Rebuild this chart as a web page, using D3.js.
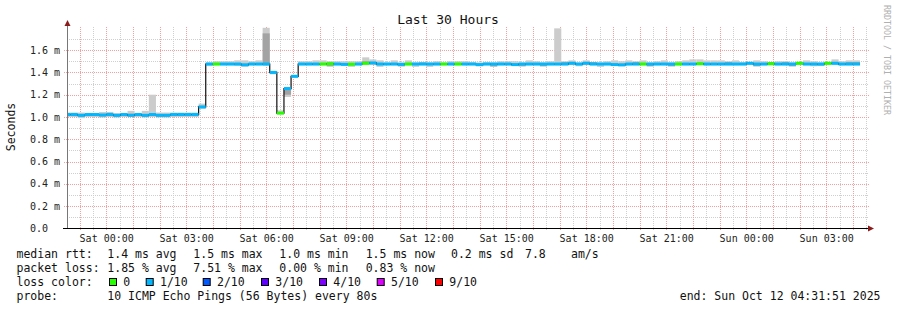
<!DOCTYPE html>
<html>
<head>
<meta charset="utf-8">
<script src="https://cdn.jsdelivr.net/npm/d3@7"></script>
<style>
  body { margin: 0; background: #fff; }
  svg { display: block; font-family: 'DejaVu Sans Mono', monospace; }
</style>
</head>
<body>
<svg width="897" height="310"></svg>
<script>
// 16 minute bins, first bin starts Fri 22:24 UTC (partly left of the plot)
const binStart = Date.UTC(2025, 9, 10, 22, 24);
const binMs = 16 * 60 * 1000;
const rangeStart = new Date(Date.UTC(2025, 9, 10, 22, 31, 51));
const rangeEnd = new Date(Date.UTC(2025, 9, 12, 4, 31, 51));

// median rtt per bin (ms)
const median = [
  1.022, 1.022, 1.015, 1.022, 1.022, 1.018, 1.022, 1.015, 1.022, 1.015,
  1.022, 1.015, 1.022, 1.015, 1.015, 1.022, 1.022, 1.022, 1.022, 1.09,
  1.475, 1.475, 1.475, 1.475, 1.475, 1.468, 1.475, 1.475, 1.475, 1.40,
  1.035, 1.255, 1.365, 1.475, 1.475, 1.475, 1.475, 1.478, 1.475, 1.472,
  1.473, 1.475, 1.482, 1.485, 1.475, 1.475, 1.475, 1.472, 1.475, 1.475,
  1.475, 1.475, 1.475, 1.475, 1.475, 1.475, 1.475, 1.475, 1.47, 1.475,
  1.475, 1.475, 1.475, 1.47, 1.475, 1.475, 1.475, 1.475, 1.475, 1.475,
  1.475, 1.482, 1.475, 1.482, 1.475, 1.475, 1.475, 1.47, 1.468, 1.475,
  1.475, 1.475, 1.475, 1.475, 1.475, 1.475, 1.475, 1.475, 1.475, 1.478,
  1.475, 1.475, 1.475, 1.475, 1.475, 1.475, 1.482, 1.475, 1.475, 1.478,
  1.475, 1.475, 1.475, 1.482, 1.475, 1.475, 1.475, 1.482, 1.482, 1.475,
  1.475, 1.475
];

// loss class per bin (index into lossColors)
const loss = [
  1, 1, 1, 1, 1, 1, 1, 1, 1, 1,
  1, 1, 1, 1, 1, 1, 1, 1, 1, 1,
  1, 0, 1, 1, 1, 1, 1, 1, 1, 1,
  0, 1, 1, 1, 1, 1, 0, 0, 1, 1,
  0, 1, 0, 1, 1, 1, 1, 1, 0, 1,
  1, 1, 1, 0, 1, 0, 1, 1, 1, 1,
  1, 1, 1, 1, 1, 1, 1, 1, 1, 1,
  1, 1, 1, 1, 1, 1, 1, 1, 1, 1,
  1, 0, 1, 1, 1, 1, 0, 1, 1, 0,
  1, 1, 1, 1, 1, 1, 1, 1, 1, 0,
  1, 1, 1, 0, 1, 1, 1, 0, 1, 1,
  1, 1
];

// smoke: full ping spread per bin
const smokeHi = [
  1.04, 1.04, 1.04, 1.035, 1.035, 1.045, 1.04, 1.035, 1.035, 1.055,
  1.035, 1.055, 1.2, 1.04, 1.04, 1.04, 1.04, 1.04, 1.04, 1.12,
  1.49, 1.5, 1.5, 1.5, 1.508, 1.508, 1.5, 1.508, 1.8, 1.41,
  1.06, 1.265, 1.375, 1.5, 1.5, 1.508, 1.508, 1.5, 1.5, 1.5,
  1.5, 1.5, 1.535, 1.517, 1.508, 1.49, 1.508, 1.49, 1.508, 1.49,
  1.49, 1.49, 1.5, 1.49, 1.5, 1.5, 1.5, 1.493, 1.49, 1.493,
  1.49, 1.5, 1.5, 1.5, 1.49, 1.508, 1.5, 1.49, 1.5, 1.795,
  1.5, 1.508, 1.49, 1.508, 1.493, 1.49, 1.5, 1.508, 1.5, 1.508,
  1.5, 1.508, 1.49, 1.5, 1.508, 1.49, 1.5, 1.508, 1.517, 1.517,
  1.508, 1.508, 1.508, 1.5, 1.508, 1.493, 1.49, 1.508, 1.5, 1.493,
  1.5, 1.5, 1.49, 1.49, 1.508, 1.5, 1.49, 1.49, 1.517, 1.5,
  1.508, 1.508
];
const smokeLo = [
  1.0, 1.0, 0.99, 1.0, 1.0, 0.995, 1.0, 0.995, 1.0, 1.0,
  1.0, 0.995, 1.0, 0.995, 0.995, 1.0, 1.0, 1.0, 1.0, 1.075,
  1.46, 1.465, 1.465, 1.465, 1.46, 1.455, 1.465, 1.465, 1.46, 1.383,
  1.025, 1.18, 1.353, 1.465, 1.465, 1.465, 1.465, 1.45, 1.465, 1.465,
  1.45, 1.465, 1.465, 1.465, 1.45, 1.465, 1.465, 1.455, 1.465, 1.45,
  1.465, 1.45, 1.465, 1.465, 1.465, 1.465, 1.465, 1.465, 1.455, 1.465,
  1.45, 1.465, 1.465, 1.46, 1.455, 1.465, 1.465, 1.455, 1.465, 1.465,
  1.465, 1.465, 1.455, 1.465, 1.465, 1.45, 1.465, 1.46, 1.455, 1.465,
  1.465, 1.465, 1.455, 1.465, 1.465, 1.455, 1.465, 1.465, 1.465, 1.465,
  1.465, 1.465, 1.465, 1.465, 1.465, 1.465, 1.465, 1.455, 1.465, 1.465,
  1.465, 1.465, 1.455, 1.465, 1.465, 1.455, 1.46, 1.465, 1.465, 1.465,
  1.465, 1.465
];
// denser inner part of the smoke
const darkHi = [
  1.03, 1.03, 1.025, 1.03, 1.025, 1.025, 1.04, 1.025, 1.03, 1.03,
  1.03, 1.025, 1.03, 1.025, 1.025, 1.03, 1.03, 1.03, 1.03, 1.1,
  1.483, 1.483, 1.483, 1.483, 1.483, 1.476, 1.483, 1.483, 1.75, 1.408,
  1.043, 1.263, 1.373, 1.483, 1.483, 1.483, 1.483, 1.486, 1.483, 1.48,
  1.481, 1.483, 1.5, 1.493, 1.483, 1.483, 1.483, 1.48, 1.483, 1.483,
  1.49, 1.483, 1.483, 1.483, 1.483, 1.483, 1.483, 1.483, 1.478, 1.483,
  1.483, 1.483, 1.483, 1.478, 1.483, 1.483, 1.483, 1.483, 1.483, 1.483,
  1.493, 1.49, 1.483, 1.49, 1.493, 1.483, 1.483, 1.478, 1.476, 1.483,
  1.493, 1.483, 1.483, 1.483, 1.483, 1.483, 1.483, 1.483, 1.483, 1.486,
  1.483, 1.483, 1.483, 1.493, 1.483, 1.483, 1.49, 1.483, 1.483, 1.493,
  1.483, 1.493, 1.483, 1.49, 1.483, 1.483, 1.483, 1.49, 1.49, 1.483,
  1.493, 1.493
];
const darkLo = [
  1.01, 1.01, 1.005, 1.01, 1.01, 1.005, 1.01, 1.005, 1.01, 1.01,
  1.01, 1.005, 1.01, 1.005, 1.005, 1.01, 1.01, 1.01, 1.01, 1.08,
  1.467, 1.467, 1.467, 1.467, 1.467, 1.455, 1.467, 1.467, 1.467, 1.39,
  1.027, 1.2, 1.357, 1.467, 1.467, 1.467, 1.467, 1.458, 1.467, 1.464,
  1.465, 1.467, 1.474, 1.477, 1.467, 1.467, 1.467, 1.455, 1.467, 1.467,
  1.467, 1.467, 1.467, 1.467, 1.467, 1.467, 1.467, 1.467, 1.462, 1.467,
  1.455, 1.467, 1.467, 1.462, 1.455, 1.467, 1.467, 1.455, 1.467, 1.467,
  1.467, 1.474, 1.467, 1.474, 1.467, 1.467, 1.467, 1.462, 1.46, 1.467,
  1.467, 1.467, 1.455, 1.467, 1.467, 1.455, 1.467, 1.467, 1.467, 1.47,
  1.467, 1.467, 1.467, 1.467, 1.467, 1.467, 1.474, 1.455, 1.467, 1.47,
  1.467, 1.467, 1.455, 1.474, 1.467, 1.467, 1.462, 1.474, 1.474, 1.467,
  1.467, 1.467
];

const lossColors = ['#26ff00', '#00b8ff', '#0059ff', '#5e00ff', '#7e00ff', '#dd00ff', '#ff0000'];
const lossLabels = ['0', '1/10', '2/10', '3/10', '4/10', '5/10', '9/10'];
const yTicks = [0, 0.2, 0.4, 0.6, 0.8, 1.0, 1.2, 1.4, 1.6];

const svg = d3.select('svg');
const width = +svg.attr('width');
const height = +svg.attr('height');
const left = 67, right = 867;

const x = d3.scaleUtc().domain([rangeStart, rangeEnd]).range([left, right]);
const y = d3.scaleLinear().domain([0, 1.8]).range([228.5, 27.8]);

svg.append('rect').attr('width', width).attr('height', height).attr('fill', '#fff');

svg.append('defs').append('clipPath').attr('id', 'plot')
  .append('rect').attr('x', left).attr('y', 20).attr('width', right - left).attr('height', 209);

// grid
const grid = svg.append('g').attr('shape-rendering', 'crispEdges');
const minorY = d3.range(1, 18).map((d) => d / 10).filter((d, i) => i % 2 === 0);
grid.selectAll('.gy').data(minorY).enter().append('line')
  .attr('x1', left).attr('x2', right + 2)
  .attr('y1', (d) => Math.round(y(d)) + 0.5).attr('y2', (d) => Math.round(y(d)) + 0.5)
  .attr('stroke', '#cfcfcf').attr('stroke-dasharray', '1,1');
const minorX = x.ticks(d3.utcMinute.every(30));
grid.selectAll('.gx').data(minorX).enter().append('line')
  .attr('x1', (d) => Math.round(x(d)) + 0.5).attr('x2', (d) => Math.round(x(d)) + 0.5)
  .attr('y1', 27).attr('y2', 230)
  .attr('stroke', '#cfcfcf').attr('stroke-dasharray', '1,1');
grid.selectAll('.my').data(yTicks.slice(1)).enter().append('line')
  .attr('x1', left - 3).attr('x2', right + 2)
  .attr('y1', (d) => Math.round(y(d)) + 0.5).attr('y2', (d) => Math.round(y(d)) + 0.5)
  .attr('stroke', '#f2a0a0').attr('stroke-dasharray', '1,1');
const majorX = x.ticks(d3.utcHour.every(1));
grid.selectAll('.mx').data(majorX).enter().append('line')
  .attr('x1', (d) => Math.round(x(d)) + 0.5).attr('x2', (d) => Math.round(x(d)) + 0.5)
  .attr('y1', 27).attr('y2', 231)
  .attr('stroke', '#f2a0a0').attr('stroke-dasharray', '1,1');

// bins
const bins = median.map((m, i) => ({
  x0: x(new Date(binStart + i * binMs)),
  x1: x(new Date(binStart + (i + 1) * binMs)),
  m, loss: loss[i], hi: smokeHi[i], lo: smokeLo[i], dhi: darkHi[i], dlo: darkLo[i]
}));

const plot = svg.append('g').attr('clip-path', 'url(#plot)');

plot.selectAll('.smoke').data(bins).enter().append('rect')
  .attr('x', (d) => d.x0).attr('width', (d) => d.x1 - d.x0)
  .attr('y', (d) => y(d.hi)).attr('height', (d) => y(d.lo) - y(d.hi))
  .attr('fill', '#cccccc');
plot.selectAll('.dark').data(bins).enter().append('rect')
  .attr('x', (d) => d.x0).attr('width', (d) => d.x1 - d.x0)
  .attr('y', (d) => y(d.dhi)).attr('height', (d) => y(d.dlo) - y(d.dhi))
  .attr('fill', '#a3a3a3');

const stepPts = bins.map((d) => [d.x0, y(d.m)]);
stepPts.push([bins[bins.length - 1].x1, y(bins[bins.length - 1].m)]);
plot.append('path')
  .attr('d', d3.line().curve(d3.curveStepAfter)(stepPts))
  .attr('fill', 'none').attr('stroke', '#111').attr('stroke-width', 1.2);

plot.selectAll('.med').data(bins).enter().append('rect')
  .attr('x', (d) => d.x0).attr('width', (d) => d.x1 - d.x0)
  .attr('y', (d) => y(d.m) - 1.5).attr('height', 3)
  .attr('fill', (d) => lossColors[d.loss]);

// axes
svg.append('line').attr('x1', left + 0.5).attr('x2', left + 0.5).attr('y1', 24).attr('y2', 229)
  .attr('stroke', '#777').attr('shape-rendering', 'crispEdges');
svg.append('line').attr('x1', left - 4).attr('x2', right + 2).attr('y1', 228.5).attr('y2', 228.5)
  .attr('stroke', '#000').attr('shape-rendering', 'crispEdges');
svg.append('path').attr('d', 'M64.5,26L70.5,26L67.5,20Z').attr('fill', '#8b1c1c');
svg.append('path').attr('d', 'M868,225.5L868,231.5L874,228.5Z').attr('fill', '#8b1c1c');

svg.append('g').selectAll('text').data(yTicks).enter().append('text')
  .attr('x', 30).attr('y', (d) => y(d) + 3.5)
  .attr('font-size', 10).attr('fill', '#222')
  .text((d) => d3.format('.1f')(d) + (d === 0 ? '' : ' m'));

const xAxis = svg.append('g').attr('transform', 'translate(0,232)')
  .call(d3.axisBottom(x).ticks(d3.utcHour.every(3)).tickFormat(d3.utcFormat('%a %H:%M')).tickSize(0));
xAxis.select('.domain').remove();
xAxis.selectAll('text').attr('font-size', 10).attr('font-family', 'DejaVu Sans Mono').attr('fill', '#222').attr('dy', '0.71em');

// titles
svg.append('text').attr('x', 448).attr('y', 24).attr('text-anchor', 'middle')
  .attr('font-size', 13).attr('fill', '#111').text('Last 30 Hours');
svg.append('text').attr('transform', 'translate(15,127) rotate(-90)').attr('text-anchor', 'middle')
  .attr('font-size', 11.5).attr('fill', '#111').text('Seconds');
svg.append('text').attr('transform', 'translate(884,5) rotate(90)')
  .attr('font-size', 8.3).attr('fill', '#b0b0b0').text('RRDTOOL / TOBI OETIKER');

// legend
const legend = svg.append('g').attr('font-size', 11.5).attr('fill', '#111');
const put = (px, py, t) => legend.append('text').attr('x', px).attr('y', py).attr('xml:space', 'preserve').text(t);
put(16.5, 258, 'median rtt:');
[[107.3, '1.4 ms avg'], [193.3, '1.5 ms max'], [279.3, '1.0 ms min'], [365.7, '1.5 ms now'],
 [451, '0.2 ms sd'], [525, '7.8'], [571, 'am/s']].forEach((s) => put(s[0], 258, s[1]));
put(16.5, 272, 'packet loss:');
[[107.3, '1.85 % avg'], [193.3, '7.51 % max'], [279.3, '0.00 % min'], [365.7, '0.83 % now']]
  .forEach((s) => put(s[0], 272, s[1]));
put(16.5, 286, 'loss color:');
const boxX = [109, 145.7, 202.7, 261, 319, 376.7, 435];
lossLabels.forEach((l, i) => {
  legend.append('rect').attr('x', boxX[i] + 0.5).attr('y', 278.5).attr('width', 7).attr('height', 7)
    .attr('fill', lossColors[i]).attr('stroke', '#000').attr('stroke-width', 1);
  put(boxX[i] + 14.3, 286, l);
});
put(16.5, 300, 'probe:');
put(107.3, 300, '10 ICMP Echo Pings (56 Bytes) every 80s');
legend.append('text').attr('x', 880.5).attr('y', 300).attr('text-anchor', 'end')
  .text('end: Sun Oct 12 04:31:51 2025');
</script>
</body>
</html>
